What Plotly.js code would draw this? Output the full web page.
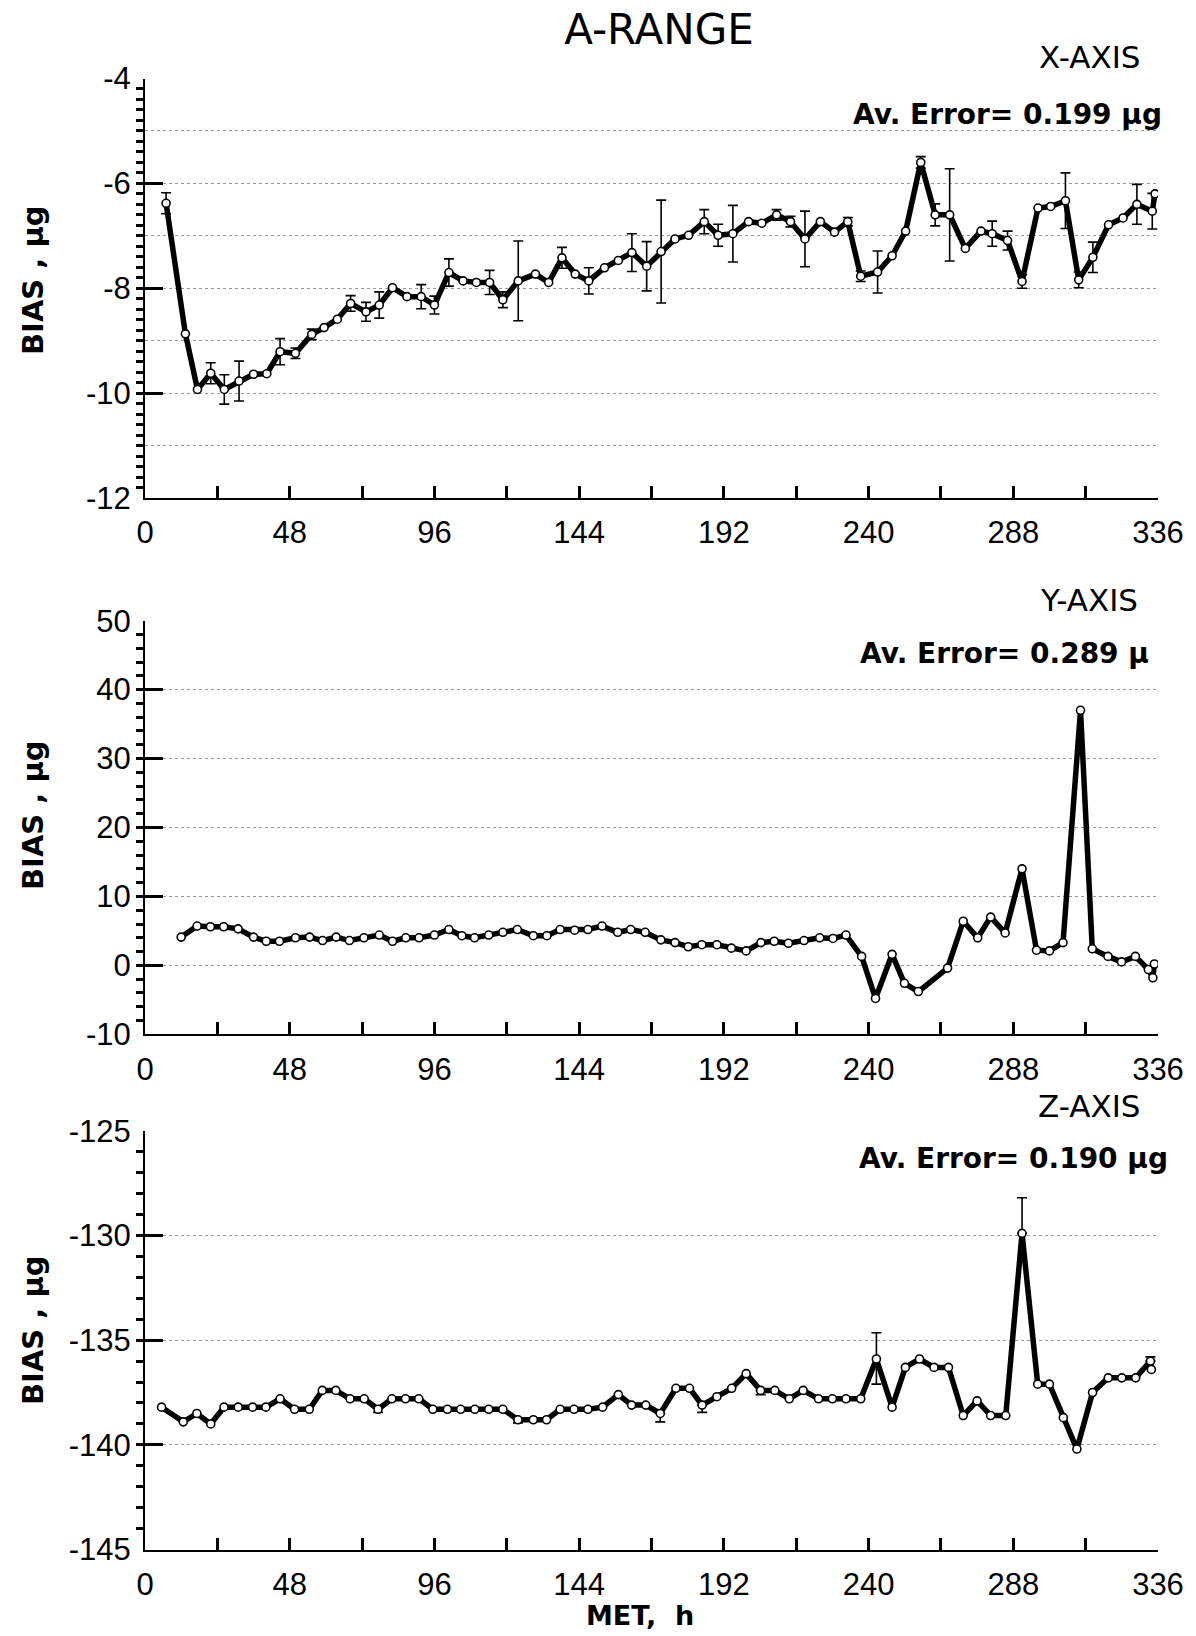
<!DOCTYPE html>
<html><head><meta charset="utf-8">
<script src="https://cdn.plot.ly/plotly-3.0.1.min.js"></script>
<style>html,body{margin:0;padding:0;background:#fff}#chart{width:1196px;height:1636px}</style>
</head><body><div id="chart"></div>
<script>
// ---------------- DATA ----------------
const chartTitle = 'A-RANGE';
const panelNames = ['X-AXIS', 'Y-AXIS', 'Z-AXIS'];
const avErrorTexts = ['Av. Error= 0.199 µg', 'Av. Error= 0.289 µ', 'Av. Error= 0.190 µg'];
const yTitle = 'BIAS , µg';
const xTitle = 'MET,  h';

const xTickVals = [0,24,48,72,96,120,144,168,192,216,240,264,288,312,336];
const xTickText = ['0','','48','','96','','144','','192','','240','','288','','336'];
const yTickValsX = [-12,-10,-8,-6,-4];
const yTickTextX = ['-12','-10','-8','-6','-4'];
const yTickValsY = [-10,0,10,20,30,40,50];
const yTickTextY = ['-10','0','10','20','30','40','50'];
const yTickValsZ = [-145,-140,-135,-130,-125];
const yTickTextZ = ['-145','-140','-135','-130','-125'];

// X-axis bias
const hoursX = [7,13.4,17.4,21.8,26.3,31.2,36,40.4,44.8,49.9,
  55.3,59.4,63.8,68.2,73.3,77.7,82.1,86.9,91.6,96,
  100.8,105.5,109.9,114.3,118.7,123.8,129.5,133.9,138.3,142.7,
  147.2,152.4,157,161.5,166.4,171.2,175.8,180.3,185.5,190.1,
  195,200.2,204.6,209.5,214.1,218.9,224,228.7,233.1,237.4,
  243,247.8,252.3,257.3,262.1,266.9,272.1,277.3,281,286.1,
  290.9,296.2,300.4,305.3,309.7,314.4,319.6,324.4,329,334.1,
  335];
const biasX = [-6.38,-8.87,-9.93,-9.62,-9.93,-9.77,-9.64,-9.63,-9.21,-9.24,
  -8.88,-8.75,-8.59,-8.29,-8.45,-8.32,-7.99,-8.16,-8.16,-8.32,
  -7.70,-7.86,-7.89,-7.89,-8.22,-7.86,-7.73,-7.89,-7.42,-7.73,
  -7.86,-7.61,-7.47,-7.32,-7.58,-7.30,-7.06,-6.99,-6.73,-6.99,
  -6.96,-6.73,-6.76,-6.60,-6.73,-7.06,-6.73,-6.93,-6.73,-7.77,
  -7.69,-7.38,-6.91,-5.60,-6.60,-6.60,-7.24,-6.91,-6.96,-7.09,
  -7.87,-6.47,-6.44,-6.33,-7.84,-7.41,-6.79,-6.66,-6.40,-6.53,
  -6.20];
const errX = [0.2,0,0,0.2,0.28,0.38,0,0,0.25,0.1,
  0.1,0,0,0.15,0.18,0.25,0,0,0.23,0.17,
  0.26,0,0,0.23,0.15,0.76,0,0,0.2,0,
  0.25,0,0,0.36,0.47,0.98,0,0,0.23,0.21,
  0.54,0,0,0.1,0.1,0.53,0,0,0.08,0.1,
  0.4,0,0,0.11,0.21,0.88,0,0,0.24,0.18,
  0.13,0,0,0.53,0.15,0.29,0,0,0.38,0.34,
  0];

// Y-axis bias
const hoursY = [12,17.3,21.7,26.1,30.9,36,40.2,44.6,49.9,54.6,
  58.9,63.4,67.8,72.6,77.7,82.1,86.5,90.9,96,100.8,
  105.1,109.3,114,118.7,123.5,128.8,133.3,137.7,142.5,146.9,
  151.6,156.8,161.1,165.9,171.1,175.8,180.2,184.7,189.7,194.5,
  199.4,204.3,208.7,213.4,218.6,223.8,228.2,232.5,237.7,242.3,
  247.8,251.9,256.5,266.2,271.4,276.2,280.5,285.3,290.9,295.7,
  300,304.5,310.3,314.2,319.4,323.9,328.5,332.8,334.3,334.8];
const biasY = [4.1,5.7,5.6,5.6,5.3,4.1,3.5,3.5,4.0,4.1,
  3.6,4.1,3.6,4.0,4.4,3.5,4.0,4.0,4.4,5.2,
  4.3,4.0,4.4,4.8,5.2,4.3,4.3,5.2,5.1,5.2,
  5.7,4.8,5.2,4.8,3.7,3.3,2.7,3.0,3.0,2.5,
  2.1,3.3,3.5,3.2,3.6,4.0,3.9,4.4,1.3,-4.8,
  1.6,-2.6,-3.8,-0.4,6.4,4.0,7.0,4.7,14.0,2.2,
  2.1,3.3,37.0,2.4,1.3,0.5,1.3,-0.6,-1.8,0.2];

// Z-axis bias
const hoursZ = [5.5,12.7,17.2,21.8,26.2,30.9,35.7,40.1,44.8,49.6,
  54.5,58.8,63.3,68,72.7,77.3,81.9,86.4,90.8,95.5,
  100.3,104.7,109.4,114,118.7,123.7,128.8,133.2,137.7,142.3,
  146.9,151.8,157,161.4,166.1,170.9,176.1,180.6,184.8,189.7,
  194.6,199.4,204.2,208.9,213.7,218.3,223.4,228,232.5,237.4,
  242.6,247.8,252.2,256.9,261.7,266.5,271.4,276,280.5,285.5,
  290.9,296.1,300,304.6,309.1,314.3,319.5,324,328.6,333.5,
  333.8];
const biasZ = [-138.2,-138.9,-138.5,-139.0,-138.2,-138.2,-138.2,-138.2,-137.8,-138.3,
  -138.3,-137.4,-137.4,-137.8,-137.8,-138.3,-137.8,-137.8,-137.8,-138.3,
  -138.3,-138.3,-138.3,-138.3,-138.3,-138.8,-138.8,-138.8,-138.3,-138.3,
  -138.3,-138.2,-137.6,-138.1,-138.1,-138.5,-137.3,-137.3,-138.1,-137.7,
  -137.3,-136.6,-137.4,-137.4,-137.8,-137.4,-137.8,-137.8,-137.8,-137.8,
  -135.9,-138.2,-136.3,-135.9,-136.3,-136.3,-138.6,-137.9,-138.6,-138.6,
  -129.9,-137.1,-137.1,-138.7,-140.2,-137.5,-136.8,-136.8,-136.8,-136.0,
  -136.4];
const errZplus = [0,0,0,0,0,0,0,0,0,0,
  0,0,0,0,0,0.15,0,0,0,0,
  0,0,0,0,0,0,0,0,0,0,
  0,0,0,0,0,0,0,0,0,0,
  0,0,0,0,0,0,0,0,0,0,
  1.25,0,0,0,0,0,0,0,0,0,
  1.7,0,0,0,0,0,0,0,0,0.2,
  0];
const errZminus = [0,0,0,0,0,0,0,0,0,0,
  0,0,0,0,0,0.15,0,0,0,0,
  0,0,0,0,0,0.15,0,0,0,0,
  0,0,0,0,0,0.4,0,0,0.35,0,
  0,0,0.2,0,0,0,0,0,0,0,
  1.2,0,0,0,0,0,0,0,0,0,
  0,0,0,0,0,0,0,0,0,0,
  0];

// ---------------- LAYOUT HELPERS ----------------
const W = 1196, H = 1636;
const fx = p => p / W;
const fy = p => 1 - p / H;

const tickFont = {family: 'Liberation Sans, Arial, sans-serif', size: 31, color: '#000'};
const boldFont = {family: 'DejaVu Sans, sans-serif', size: 28, color: '#000', weight: 700};
const nameFont = {family: 'DejaVu Sans, sans-serif', size: 31, color: '#000'};
const gridColor = '#999';

const lineStyle = {color: '#000', width: 5.5};
const markerStyle = {symbol: 'circle', size: 8, color: '#fff', line: {color: '#000', width: 1.6}};

const nz = a => a.map(v => (v > 0 ? v : NaN));

const traces = [
  {x: hoursX, y: biasX, xaxis: 'x', yaxis: 'y', mode: 'lines+markers', line: lineStyle, marker: markerStyle,
   error_y: {type: 'data', array: nz(errX), visible: true, color: '#000', thickness: 1.6, width: 5}},
  {x: hoursY, y: biasY, xaxis: 'x2', yaxis: 'y2', mode: 'lines+markers', line: lineStyle, marker: markerStyle},
  {x: hoursZ, y: biasZ, xaxis: 'x3', yaxis: 'y3', mode: 'lines+markers', line: lineStyle, marker: markerStyle,
   error_y: {type: 'data', symmetric: false,
     array: errZplus.map((v, i) => (v > 0 || errZminus[i] > 0) ? v : NaN),
     arrayminus: errZminus.map((v, i) => (v > 0 || errZplus[i] > 0) ? v : NaN),
     visible: true, color: '#000', thickness: 1.6, width: 5}},
  // empty helper trace so the overlay grid axis of the top panel is built
  {x: [], y: [], xaxis: 'x', yaxis: 'y4', mode: 'lines', hoverinfo: 'skip'}
];

const xDom = [fx(145), fx(1158)];
const panelsPx = [[78.5, 498], [620.7, 1034.3], [1130.7, 1549.6]];

function xAxis(anchor) {
  return {domain: xDom, anchor: anchor, range: [0, 336], tickmode: 'array', tickvals: xTickVals, ticktext: xTickText,
    ticks: 'inside', ticklen: 12, tickwidth: 3, tickcolor: '#000', showline: true, linecolor: '#000', linewidth: 2,
    showgrid: false, zeroline: false, tickfont: tickFont, ticklabelstandoff: 6};
}
function yAxis(anchor, p, range, vals, text, minorDtick, grid) {
  return {domain: [fy(p[1]), fy(p[0])], anchor: anchor, range: range, tickmode: 'array', tickvals: vals, ticktext: text,
    ticks: 'inside', ticklen: 18, tickwidth: 3, tickcolor: '#000', showline: true, linecolor: '#000', linewidth: 2,
    zeroline: false, tickfont: tickFont, ticklabelstandoff: 6,
    showgrid: grid, gridcolor: gridColor, gridwidth: 1, griddash: 'dot',
    minor: {tickmode: 'linear', tick0: range[0], dtick: minorDtick, ticks: 'outside', ticklen: 7, tickwidth: 3,
      tickcolor: '#000', showgrid: false}};
}

const layout = {
  width: W, height: H, margin: {l: 0, r: 0, t: 0, b: 0}, showlegend: false,
  paper_bgcolor: '#fff', plot_bgcolor: '#fff',
  title: {text: chartTitle, x: fx(659), y: fy(29), xanchor: 'center', yanchor: 'middle', xref: 'paper', yref: 'paper',
    font: {family: 'DejaVu Sans, sans-serif', size: 42, color: '#000'}},
  xaxis: xAxis('y'), xaxis2: xAxis('y2'), xaxis3: xAxis('y3'),
  yaxis: yAxis('x', panelsPx[0], [-12, -4], yTickValsX, yTickTextX, 0.2, false),
  yaxis2: yAxis('x2', panelsPx[1], [-10, 50], yTickValsY, yTickTextY, 2, true),
  yaxis3: yAxis('x3', panelsPx[2], [-145, -125], yTickValsZ, yTickTextZ, 1, true),
  // grid every 1 µg for the top panel
  yaxis4: {overlaying: 'y', anchor: 'x', range: [-12, -4], tick0: -12, dtick: 1, showgrid: true, gridcolor: gridColor,
    gridwidth: 1, griddash: 'dot', showticklabels: false, ticks: '', showline: false, zeroline: false},
  annotations: []
};

const nameY = [57, 600, 1106];
const errY = [114, 653, 1158];
const errRight = [1164, 1151, 1170];
const titleY = [280, 815, 1330];
for (let i = 0; i < 3; i++) {
  layout.annotations.push({text: panelNames[i], xref: 'paper', yref: 'paper', x: fx(1089), y: fy(nameY[i]),
    xanchor: 'center', yanchor: 'middle', showarrow: false, font: nameFont});
  layout.annotations.push({text: avErrorTexts[i], xref: 'paper', yref: 'paper', x: fx(errRight[i]), y: fy(errY[i]),
    xanchor: 'right', yanchor: 'middle', showarrow: false, font: boldFont});
  layout.annotations.push({text: yTitle, xref: 'paper', yref: 'paper', x: fx(33), y: fy(titleY[i]),
    xanchor: 'center', yanchor: 'middle', textangle: -90, showarrow: false,
    font: {family: 'DejaVu Sans, sans-serif', size: 29, color: '#000', weight: 700}});
}
layout.annotations.push({text: xTitle, xref: 'paper', yref: 'paper', x: fx(640), y: fy(1615),
  xanchor: 'center', yanchor: 'middle', showarrow: false,
  font: {family: 'DejaVu Sans, sans-serif', size: 27, color: '#000', weight: 700}});

Plotly.newPlot('chart', traces, layout, {staticPlot: true, displayModeBar: false});
</script></body></html>
